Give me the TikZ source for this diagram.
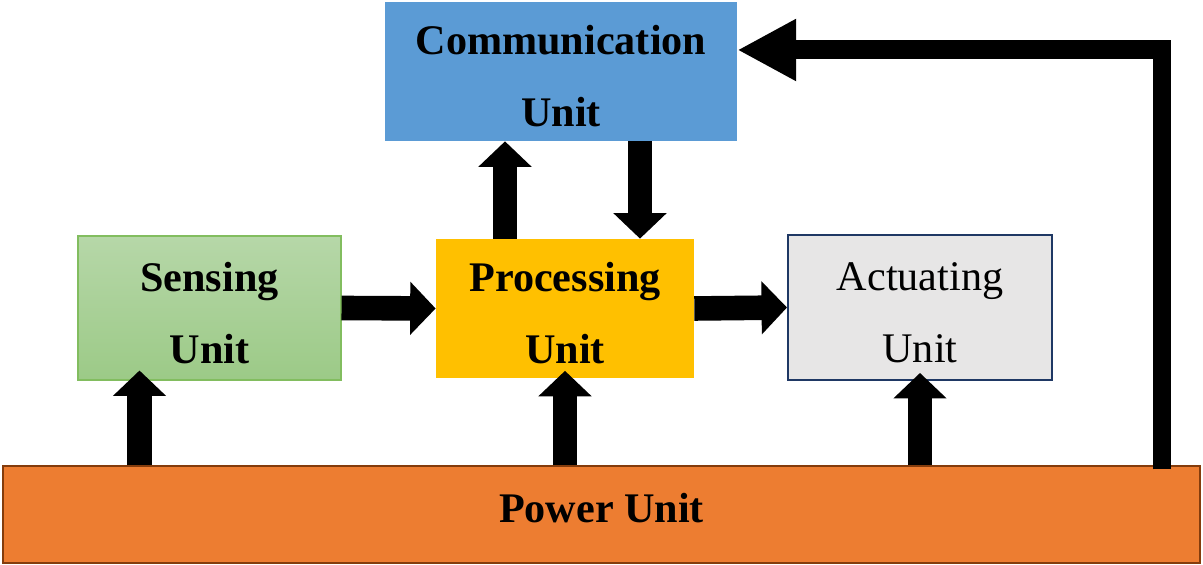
\documentclass[tikz,border=0pt]{standalone}
\usepackage{fontspec}
\setmainfont{Liberation Serif}
\usetikzlibrary{arrows.meta}
\definecolor{commblue}{HTML}{5B9BD5}
\definecolor{procgold}{HTML}{FFC000}
\definecolor{actgray}{HTML}{E7E6E6}
\definecolor{actline}{HTML}{1F3864}
\definecolor{powerorange}{HTML}{ED7D31}
\definecolor{powerline}{HTML}{843C0C}
\definecolor{sensetop}{HTML}{B6D7A8}
\definecolor{sensebot}{HTML}{9CCA87}
\definecolor{senseline}{HTML}{82BD5F}
\tikzset{
    unit/.style = {rectangle, align=center, inner sep=0pt, font=\fontsize{24}{41}\selectfont\bfseries},
    twoline/.style = {text height=63pt, text depth=0pt},
    fat/.style = {line width=14pt, -{Triangle[width=29.5pt, length=14.5pt]}},
    feed/.style = {line width=10.8pt, -{Triangle[width=33pt, length=33.5pt]}}
}

\begin{document}
\begin{tikzpicture}
        \useasboundingbox (0,0) rectangle (24.06,11.3);

        \node[unit, twoline, fill=commblue, minimum width=7.04cm, minimum height=2.78cm] (comm) at (11.22,9.87) {Communication\\Unit};
        \node[unit, twoline, top color=sensetop, bottom color=sensebot, draw=senseline, line width=0.6pt,
              minimum width=5.26cm, minimum height=2.88cm] (sense) at (4.19,5.14) {Sensing\\Unit};
        \node[unit, twoline, fill=procgold, minimum width=5.16cm, minimum height=2.78cm] (proc) at (11.3,5.13) {Processing\\Unit};
        \node[unit, twoline, fill=actgray, draw=actline, line width=1.1pt, font=\fontsize{24}{41}\selectfont,
              minimum width=5.28cm, minimum height=2.9cm] (act) at (18.4,5.15) {Actuating\\Unit};
        \node[unit, fill=powerorange, draw=powerline, line width=0.8pt, text depth=8pt,
              minimum width=23.94cm, minimum height=1.94cm] (power) at (12.03,1.01) {Power Unit};

        \draw[fat] (sense.east) -- (proc.west);
        \draw[fat] (proc.east) -- (act.west);
        \draw[fat] ([xshift=-1.2cm]proc.north) -- ([xshift=-1.2cm]proc.north |- comm.south);
        \draw[fat] ([xshift=1.5cm]proc.north |- comm.south) -- ([xshift=1.5cm]proc.north);

        \draw[fat] ([xshift=-1.4cm]sense.south |- power.north) -- ([xshift=-1.4cm, yshift=0.2cm]sense.south);
        \draw[fat] (power.north -| proc.south) -- ([yshift=0.15cm]proc.south);
        \draw[fat] (power.north -| act.south) -- ([yshift=0.16cm]act.south);

        \draw[feed] ([xshift=11.21cm, yshift=-0.08cm]power.north) |- ([yshift=0.43cm]comm.east);
\end{tikzpicture}
\end{document}
